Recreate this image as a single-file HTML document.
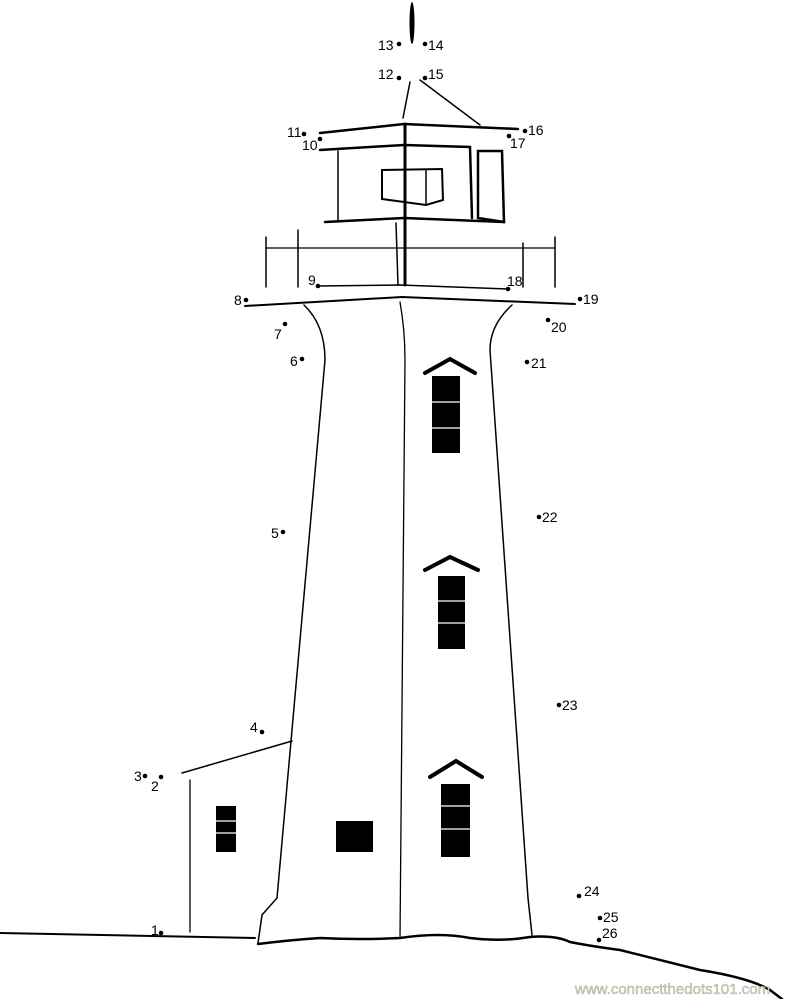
<!DOCTYPE html>
<html><head><meta charset="utf-8"><style>
html,body{margin:0;padding:0;background:#fff}
svg{display:block}
text{font-family:"Liberation Sans",sans-serif;font-size:14px;fill:#000}
</style></head><body>
<svg width="800" height="999" viewBox="0 0 800 999" xmlns="http://www.w3.org/2000/svg">
<g fill="none" stroke="#000" stroke-linecap="round">
<!-- spire -->
<ellipse cx="412" cy="23" rx="2.5" ry="21" fill="#000" stroke="none"/>
<path d="M410 82 L403 118" stroke-width="1.5"/>
<path d="M420 80 L480 125" stroke-width="1.5"/>
<!-- lantern -->
<path d="M320 133 L404 124 L518 129" stroke-width="2.5"/>
<path d="M320 150 L404 145 L470 147 L472 218" stroke-width="2.5"/>
<path d="M325 222 L404 218 L504 222" stroke-width="2.5"/>
<path d="M338 151 L338 220" stroke-width="1.5"/>
<path d="M405 124 L405 285" stroke-width="3"/>
<path d="M396 223 L398 285" stroke-width="1.5"/>
<path d="M478 151 L502 151 L504 222 L478 218 Z" stroke-width="2.5"/>
<path d="M382 170 L442 169 L443 200 L426 205 L382 199 Z" stroke-width="2"/>
<path d="M426 170 L426 205" stroke-width="1.5"/>
<!-- gallery -->
<path d="M266 248 L555 248" stroke-width="1.3"/>
<path d="M266 237 L266 287 M298 230 L298 287 M523 243 L523 287 M555 237 L555 287" stroke-width="1.5"/>
<path d="M318 286 L400 285 L508 289" stroke-width="1.5"/>
<path d="M245 306 L402 297 L575 304" stroke-width="2"/>
<!-- tower -->
<path d="M304 305 Q325 325 325 360 L277 898 L262 915 L258 943" stroke-width="1.5"/>
<path d="M512 305 Q490 325 490 350 L528 898 L532 935" stroke-width="1.5"/>
<path d="M400 302 Q405 330 405 360 L400 938" stroke-width="1.3"/>
<!-- annex -->
<path d="M182 773 L292 741" stroke-width="1.5"/>
<path d="M190 780 L190 932" stroke-width="1.3"/>
<!-- ground -->
<path d="M0 933 L255 938" stroke-width="2"/>
<path d="M258 944 Q290 940 320 938 Q360 940 400 938 Q440 932 470 938 Q500 942 530 937 Q555 935 570 942 Q590 946 620 950 Q660 960 700 970 Q750 978 770 990 L782 999" stroke-width="2.5"/>
<!-- window hats -->
<path d="M425 373 L450 359 L475 373" stroke-width="4" stroke-linejoin="miter"/>
<path d="M425 570 L450 557 L478 570" stroke-width="4"/>
<path d="M430 777 L456 761 L482 777" stroke-width="4"/>
</g>
<g fill="#000">
<rect x="432" y="376" width="28" height="77"/>
<rect x="438" y="576" width="27" height="73"/>
<rect x="441" y="784" width="29" height="73"/>
<rect x="336" y="821" width="37" height="31"/>
<rect x="216" y="806" width="20" height="46"/>
</g>
<g stroke="#fff" stroke-width="1.2">
<path d="M432 402 H460 M432 428 H460"/>
<path d="M438 601 H465 M438 623 H465"/>
<path d="M441 806 H470 M441 829 H470"/>
<path d="M216 821 H236 M216 833 H236"/>
</g>
<g fill="#000">
<circle cx="161" cy="933" r="2.3"/><circle cx="161" cy="777" r="2.3"/><circle cx="145" cy="776" r="2.3"/>
<circle cx="262" cy="732" r="2.3"/><circle cx="283" cy="532" r="2.3"/><circle cx="302" cy="359" r="2.3"/>
<circle cx="285" cy="324" r="2.3"/><circle cx="246" cy="300" r="2.3"/><circle cx="318" cy="286" r="2.3"/>
<circle cx="320" cy="139" r="2.3"/><circle cx="304" cy="134" r="2.3"/><circle cx="399" cy="78" r="2.3"/>
<circle cx="399" cy="44" r="2.3"/><circle cx="425" cy="44" r="2.3"/><circle cx="425" cy="78" r="2.3"/>
<circle cx="525" cy="131" r="2.3"/><circle cx="509" cy="136" r="2.3"/><circle cx="508" cy="289" r="2.3"/>
<circle cx="580" cy="299" r="2.3"/><circle cx="548" cy="320" r="2.3"/><circle cx="527" cy="362" r="2.3"/>
<circle cx="539" cy="517" r="2.3"/><circle cx="559" cy="705" r="2.3"/><circle cx="579" cy="896" r="2.3"/>
<circle cx="600" cy="918" r="2.3"/><circle cx="599" cy="940" r="2.3"/>
</g>
<g>
<text x="151" y="935">1</text><text x="151" y="791">2</text><text x="134" y="781">3</text>
<text x="250" y="732">4</text><text x="271" y="538">5</text><text x="290" y="366">6</text>
<text x="274" y="339">7</text><text x="234" y="305">8</text><text x="308" y="285">9</text>
<text x="302" y="150">10</text><text x="287" y="137">11</text><text x="378" y="79">12</text>
<text x="378" y="50">13</text><text x="428" y="50">14</text><text x="428" y="79">15</text>
<text x="528" y="135">16</text><text x="510" y="148">17</text><text x="507" y="286">18</text>
<text x="583" y="304">19</text><text x="551" y="332">20</text><text x="531" y="368">21</text>
<text x="542" y="522">22</text><text x="562" y="710">23</text><text x="584" y="896">24</text>
<text x="603" y="922">25</text><text x="602" y="938">26</text>
<text x="575" y="994" style="font-size:15px;fill:#ddd8b0;stroke:#888;stroke-width:0.3">www.connectthedots101.com</text>
</g>
</svg>
</body></html>
